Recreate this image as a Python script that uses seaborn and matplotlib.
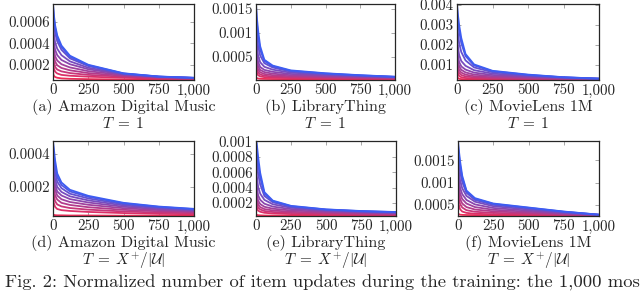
import numpy as np
import pandas as pd
import seaborn as sns
import matplotlib
matplotlib.use("Agg")
import matplotlib.pyplot as plt

ranks = [0, 5, 15, 30, 60, 120, 250, 500, 750, 1000]

# normalized number of updates, in units of 1e-4
# one row per training stage, first row = red (early), last row = blue (late)
amazon_t1 = [
    [1.3, 1.0, 0.85, 0.78, 0.72, 0.68, 0.65, 0.62, 0.60, 0.59],
    [2.4, 1.7, 1.35, 1.18, 1.05, 0.97, 0.88, 0.78, 0.70, 0.65],
    [3.1, 2.3, 1.8, 1.55, 1.38, 1.22, 1.05, 0.88, 0.76, 0.68],
    [3.8, 2.9, 2.3, 1.95, 1.7, 1.48, 1.22, 0.96, 0.80, 0.71],
    [4.5, 3.5, 2.8, 2.4, 2.05, 1.75, 1.4, 1.03, 0.83, 0.73],
    [5.3, 4.2, 3.4, 2.9, 2.45, 2.05, 1.58, 1.09, 0.86, 0.75],
    [6.3, 5.0, 4.1, 3.5, 2.9, 2.32, 1.72, 1.13, 0.87, 0.76],
    [7.4, 6.0, 5.0, 4.2, 3.4, 2.6, 1.88, 1.16, 0.88, 0.77],
    [7.7, 6.5, 5.45, 4.55, 3.65, 2.75, 1.95, 1.18, 0.89, 0.77],
    [7.7, 6.8, 5.7, 4.75, 3.8, 2.85, 2.0, 1.2, 0.90, 0.78],
]
librarything_t1 = [
    [0.8, 0.6, 0.5, 0.45, 0.42, 0.40, 0.38, 0.36, 0.34, 0.33],
    [3.0, 1.8, 1.2, 0.95, 0.8, 0.7, 0.6, 0.52, 0.47, 0.44],
    [4.5, 2.8, 1.8, 1.35, 1.1, 0.92, 0.78, 0.66, 0.58, 0.52],
    [6.0, 3.8, 2.4, 1.8, 1.45, 1.2, 0.98, 0.82, 0.70, 0.60],
    [7.5, 4.9, 3.1, 2.3, 1.85, 1.52, 1.2, 0.98, 0.82, 0.68],
    [9.0, 6.2, 4.0, 2.9, 2.3, 1.9, 1.45, 1.15, 0.94, 0.75],
    [11.0, 8.0, 5.3, 3.9, 2.95, 2.35, 1.72, 1.32, 1.03, 0.80],
    [13.5, 10.5, 7.3, 5.3, 3.7, 2.8, 1.95, 1.45, 1.10, 0.84],
    [15.5, 12.5, 9.3, 6.5, 4.15, 3.05, 2.1, 1.55, 1.16, 0.86],
    [16.0, 13.5, 10.5, 7.2, 4.4, 3.2, 2.2, 1.6, 1.2, 0.88],
]
movielens_t1 = [
    [5.0, 3.6, 3.1, 2.95, 2.85, 2.8, 2.75, 2.7, 2.65, 2.6],
    [9.0, 6.0, 4.5, 3.9, 3.5, 3.25, 3.05, 2.9, 2.8, 2.7],
    [12.0, 8.0, 6.0, 5.0, 4.3, 3.8, 3.4, 3.15, 2.95, 2.8],
    [15.0, 10.0, 7.5, 6.2, 5.2, 4.4, 3.85, 3.45, 3.1, 2.9],
    [18.0, 12.5, 9.3, 7.6, 6.3, 5.2, 4.4, 3.8, 3.3, 3.0],
    [22.0, 15.5, 11.5, 9.3, 7.7, 6.2, 5.0, 4.2, 3.5, 3.05],
    [27.0, 20.0, 15.0, 12.0, 9.6, 7.4, 5.7, 4.55, 3.65, 3.1],
    [34.0, 27.0, 21.0, 16.5, 12.3, 8.8, 6.4, 4.85, 3.78, 3.15],
    [39.0, 33.0, 27.0, 21.0, 14.5, 9.8, 6.9, 5.05, 3.85, 3.18],
    [40.5, 36.0, 30.0, 23.5, 15.5, 10.3, 7.1, 5.2, 3.9, 3.2],
]
amazon_tx = [
    [0.3, 0.26, 0.24, 0.23, 0.23, 0.22, 0.22, 0.21, 0.21, 0.21],
    [1.6, 1.0, 0.75, 0.62, 0.55, 0.5, 0.44, 0.37, 0.32, 0.30],
    [2.2, 1.5, 1.1, 0.9, 0.78, 0.68, 0.58, 0.47, 0.40, 0.36],
    [2.7, 1.9, 1.45, 1.2, 1.0, 0.87, 0.73, 0.57, 0.48, 0.42],
    [3.1, 2.3, 1.8, 1.45, 1.22, 1.05, 0.88, 0.67, 0.55, 0.47],
    [3.5, 2.7, 2.1, 1.7, 1.45, 1.23, 1.02, 0.76, 0.61, 0.51],
    [3.9, 3.1, 2.45, 1.98, 1.67, 1.4, 1.15, 0.84, 0.67, 0.55],
    [4.3, 3.6, 2.85, 2.3, 1.9, 1.56, 1.27, 0.91, 0.72, 0.59],
    [4.6, 4.0, 3.25, 2.58, 2.1, 1.7, 1.37, 0.97, 0.75, 0.61],
    [4.8, 4.4, 3.6, 2.8, 2.25, 1.8, 1.43, 1.0, 0.77, 0.63],
]
librarything_tx = [
    [0.6, 0.45, 0.4, 0.38, 0.36, 0.35, 0.35, 0.34, 0.34, 0.33],
    [2.2, 1.4, 1.0, 0.85, 0.72, 0.63, 0.55, 0.48, 0.44, 0.41],
    [3.0, 2.0, 1.4, 1.15, 0.95, 0.82, 0.7, 0.6, 0.53, 0.48],
    [3.8, 2.6, 1.8, 1.45, 1.2, 1.02, 0.85, 0.71, 0.62, 0.55],
    [4.6, 3.3, 2.3, 1.85, 1.5, 1.25, 1.02, 0.83, 0.71, 0.62],
    [5.6, 4.2, 3.0, 2.4, 1.9, 1.52, 1.2, 0.94, 0.79, 0.68],
    [7.0, 5.6, 4.1, 3.2, 2.4, 1.82, 1.37, 1.03, 0.85, 0.73],
    [8.6, 7.6, 5.8, 4.4, 2.9, 2.08, 1.5, 1.1, 0.9, 0.77],
    [9.6, 9.0, 7.1, 5.3, 3.2, 2.22, 1.57, 1.14, 0.93, 0.80],
    [10.0, 9.8, 8.0, 5.9, 3.4, 2.3, 1.62, 1.16, 0.95, 0.82],
]
movielens_tx = [
    [3.2, 2.9, 2.8, 2.75, 2.72, 2.7, 2.68, 2.65, 2.62, 2.6],
    [7.0, 5.0, 4.0, 3.5, 3.2, 3.0, 2.9, 2.8, 2.7, 2.62],
    [9.0, 6.6, 5.2, 4.4, 3.8, 3.45, 3.2, 3.0, 2.8, 2.65],
    [10.5, 8.0, 6.3, 5.3, 4.5, 3.95, 3.55, 3.2, 2.9, 2.68],
    [12.0, 9.5, 7.5, 6.3, 5.3, 4.5, 3.9, 3.45, 3.02, 2.71],
    [13.5, 11.0, 8.8, 7.4, 6.1, 5.1, 4.3, 3.7, 3.15, 2.74],
    [15.0, 12.8, 10.4, 8.7, 7.0, 5.7, 4.7, 3.95, 3.28, 2.76],
    [17.0, 15.0, 12.4, 10.1, 7.7, 6.1, 5.0, 4.2, 3.4, 2.78],
    [18.6, 16.6, 13.8, 11.0, 8.0, 6.35, 5.2, 4.33, 3.46, 2.79],
    [19.3, 17.5, 14.7, 11.5, 8.2, 6.5, 5.3, 4.4, 3.5, 2.8],
]

captions = ["(a) Amazon Digital Music", "(b) LibraryThing", "(c) MovieLens 1M",
            "(d) Amazon Digital Music", "(e) LibraryThing", "(f) MovieLens 1M"]
temps = [r"$T\;=\;1$"] * 3 + [r"$T\;=\;X^{+}/|\mathcal{U}|$"] * 3
yticks = [
    ["0.0002", "0.0004", "0.0006"],
    ["0.0005", "0.001", "0.0015"],
    ["0.001", "0.002", "0.003", "0.004"],
    ["0.0002", "0.0004"],
    ["0.0002", "0.0004", "0.0006", "0.0008", "0.001"],
    ["0.0005", "0.001", "0.0015"],
]
ylims = [(0.57e-4, 7.7e-4), (0.2e-4, 16e-4), (2.5e-4, 40.5e-4),
         (0.19e-4, 4.8e-4), (0.3e-4, 10.05e-4), (2.5e-4, 19.3e-4)]
xticks = [0, 250, 500, 750, 1000]
xticklabels = ["0", "250", "500", "750", "1,000"]

data = [amazon_t1, librarything_t1, movielens_t1, amazon_tx, librarything_tx, movielens_tx]

sns.set_style("ticks")
plt.rcParams["font.family"] = ["cmr10", "DejaVu Serif"]
plt.rcParams["mathtext.fontset"] = "cm"
plt.rcParams["axes.formatter.use_mathtext"] = True

W, H = 640, 292
fig = plt.figure(figsize=(6.4, 2.92), dpi=100)

# axes boxes in pixels: left, top, right, bottom
boxes = [(53, 4, 194, 80), (256, 4, 395, 80), (457, 4, 599, 80),
         (53, 141, 194, 216), (256, 141, 396, 216), (458, 141, 599, 216)]

palette = sns.blend_palette(["#ee2b57", "#3d5cf2"], 10)

for i, curves in enumerate(data):
    l, t, r, b = boxes[i]
    ax = fig.add_axes([l / W, 1 - b / H, (r - l) / W, (b - t) / H])
    rows = []
    for k, vals in enumerate(curves):
        for x, v in zip(ranks, vals):
            rows.append({"rank": x, "value": v * 1e-4, "stage": k})
    df = pd.DataFrame(rows)
    sns.lineplot(data=df, x="rank", y="value", hue="stage", palette=palette,
                 estimator=None, lw=1.3, legend=False, ax=ax)
    ax.set_xlim(0, 1000)
    ax.set_ylim(*ylims[i])
    ax.set_xticks(xticks)
    ax.set_xticklabels(xticklabels)
    ax.set_yticks([float(s) for s in yticks[i]])
    ax.set_yticklabels(yticks[i])
    ax.set_xlabel("")
    ax.set_ylabel("")
    ax.tick_params(direction="in", length=3, width=0.6, color="0.6",
                   top=True, right=True, labelsize=10.8, pad=2.5)
    for s in ax.spines.values():
        s.set_linewidth(0.9)
        s.set_color("0.15")
    cx = (l + r) / 2 / W
    cap_off, t_off = (27, 43) if i < 3 else (27, 44.5)
    fig.text(cx, 1 - (b + cap_off) / H, captions[i], ha="center", va="center", fontsize=11.6)
    fig.text(cx, 1 - (b + t_off) / H, temps[i], ha="center", va="center", fontsize=11)

fig.text(5 / W, 1 - 283 / H, "Fig. 2: Normalized number of item updates during the training: the 1,000 most",
         ha="left", va="center", fontsize=13.4)

fig.savefig("out.png", dpi=100)
